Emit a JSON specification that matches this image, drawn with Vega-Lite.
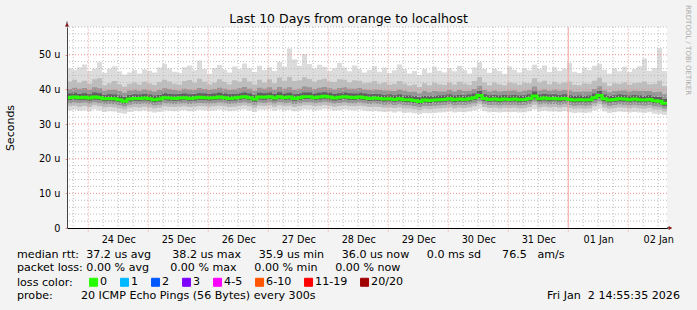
{
  "$schema": "https://vega.github.io/schema/vega-lite/v6.json",
  "width": 600,
  "height": 201,
  "autosize": {"type": "none"},
  "padding": {"left": 67, "top": 27, "right": 30, "bottom": 82},
  "background": "#f3f3f3",
  "config": {"font": "DejaVu Sans", "view": {"fill": "#ffffff", "stroke": null}},
  "title": {"text": "Last 10 Days from orange to localhost", "fontSize": 12.5, "fontWeight": "normal", "color": "#000000", "anchor": "middle", "frame": "group", "dx": -18.5, "baseline": "alphabetic", "offset": -30},
  "datasets": {
    "vminor": [{"h":-6},{"h":6},{"h":12},{"h":18},{"h":30},{"h":36},{"h":42},{"h":54},{"h":60},{"h":66},{"h":78},{"h":84},{"h":90},{"h":102},{"h":108},{"h":114},{"h":126},{"h":132},{"h":138},{"h":150},{"h":156},{"h":162},{"h":174},{"h":180},{"h":186},{"h":198},{"h":204},{"h":210},{"h":222},{"h":228}],
    "vmajor": [{"h":0},{"h":24},{"h":48},{"h":72},{"h":96},{"h":120},{"h":144},{"h":168},{"h":192},{"h":216}],
    "hminor": [{"v":2},{"v":4},{"v":6},{"v":8},{"v":12},{"v":14},{"v":16},{"v":18},{"v":22},{"v":24},{"v":26},{"v":28},{"v":32},{"v":34},{"v":36},{"v":38},{"v":42},{"v":44},{"v":46},{"v":48},{"v":52},{"v":54},{"v":56},{"v":58}],
    "hmajor": [{"v":10},{"v":20},{"v":30},{"v":40},{"v":50}],
    "smoke": [
      {"h":-8.5,"med":37.6,"lo1":33.9,"hi1":46.1,"lo2":35.1,"hi2":42.3,"lo3":36.0,"hi3":40.1,"lo4":36.9,"hi4":38.8,"loss":"0"},
      {"h":-6.5,"med":37.8,"lo1":34.2,"hi1":45.6,"lo2":35.3,"hi2":42.8,"lo3":36.2,"hi3":40.5,"lo4":37.1,"hi4":39.0,"loss":"0"},
      {"h":-4.5,"med":37.6,"lo1":33.8,"hi1":46.4,"lo2":35.0,"hi2":41.9,"lo3":36.1,"hi3":40.2,"lo4":36.9,"hi4":38.7,"loss":"0"},
      {"h":-2.5,"med":37.7,"lo1":34.0,"hi1":47.2,"lo2":35.2,"hi2":42.5,"lo3":36.2,"hi3":40.4,"lo4":37.0,"hi4":38.9,"loss":"0"},
      {"h":-0.5,"med":37.5,"lo1":33.6,"hi1":45.3,"lo2":34.9,"hi2":41.6,"lo3":35.9,"hi3":39.9,"lo4":36.8,"hi4":38.6,"loss":"0"},
      {"h":1.5,"med":37.8,"lo1":34.3,"hi1":46.0,"lo2":35.4,"hi2":42.9,"lo3":36.3,"hi3":40.6,"lo4":37.1,"hi4":39.1,"loss":"0"},
      {"h":3.5,"med":37.6,"lo1":33.9,"hi1":47.8,"lo2":35.1,"hi2":43.2,"lo3":36.0,"hi3":40.3,"lo4":36.9,"hi4":38.9,"loss":"0"},
      {"h":5.5,"med":37.3,"lo1":33.5,"hi1":44.8,"lo2":34.8,"hi2":41.2,"lo3":35.7,"hi3":39.6,"lo4":36.6,"hi4":38.4,"loss":"0"},
      {"h":7.5,"med":37.4,"lo1":33.7,"hi1":45.9,"lo2":34.9,"hi2":41.8,"lo3":35.8,"hi3":39.8,"lo4":36.7,"hi4":38.6,"loss":"0"},
      {"h":9.5,"med":37.3,"lo1":33.6,"hi1":46.7,"lo2":34.8,"hi2":42.4,"lo3":35.7,"hi3":39.9,"lo4":36.6,"hi4":38.5,"loss":"0"},
      {"h":11.5,"med":37.0,"lo1":33.2,"hi1":45.2,"lo2":34.5,"hi2":41.5,"lo3":35.4,"hi3":39.5,"lo4":36.3,"hi4":38.2,"loss":"0"},
      {"h":13.5,"med":36.6,"lo1":33.0,"hi1":44.3,"lo2":34.2,"hi2":40.8,"lo3":35.1,"hi3":39.0,"lo4":35.9,"hi4":37.8,"loss":"0"},
      {"h":15.5,"med":37.2,"lo1":33.5,"hi1":44.9,"lo2":34.7,"hi2":41.6,"lo3":35.6,"hi3":39.7,"lo4":36.5,"hi4":38.4,"loss":"0"},
      {"h":17.5,"med":37.4,"lo1":33.8,"hi1":45.6,"lo2":34.9,"hi2":42.0,"lo3":35.8,"hi3":39.9,"lo4":36.7,"hi4":38.6,"loss":"0"},
      {"h":19.5,"med":37.4,"lo1":33.7,"hi1":44.6,"lo2":34.8,"hi2":41.4,"lo3":35.8,"hi3":39.6,"lo4":36.7,"hi4":38.5,"loss":"0"},
      {"h":21.5,"med":37.5,"lo1":33.9,"hi1":45.8,"lo2":35.0,"hi2":42.2,"lo3":35.9,"hi3":40.0,"lo4":36.8,"hi4":38.7,"loss":"0"},
      {"h":23.5,"med":37.3,"lo1":33.6,"hi1":45.4,"lo2":34.8,"hi2":41.7,"lo3":35.7,"hi3":39.7,"lo4":36.6,"hi4":38.5,"loss":"0"},
      {"h":25.5,"med":37.0,"lo1":33.3,"hi1":44.9,"lo2":34.5,"hi2":41.3,"lo3":35.4,"hi3":39.4,"lo4":36.3,"hi4":38.2,"loss":"0"},
      {"h":27.5,"med":37.2,"lo1":33.5,"hi1":46.3,"lo2":34.7,"hi2":42.1,"lo3":35.6,"hi3":39.8,"lo4":36.5,"hi4":38.4,"loss":"0"},
      {"h":29.5,"med":37.6,"lo1":33.9,"hi1":47.4,"lo2":35.1,"hi2":42.8,"lo3":36.0,"hi3":40.3,"lo4":36.9,"hi4":38.9,"loss":"0"},
      {"h":31.5,"med":37.5,"lo1":33.8,"hi1":46.0,"lo2":35.0,"hi2":42.3,"lo3":35.9,"hi3":40.1,"lo4":36.8,"hi4":38.7,"loss":"0"},
      {"h":33.5,"med":37.4,"lo1":33.7,"hi1":45.1,"lo2":34.9,"hi2":41.6,"lo3":35.8,"hi3":39.8,"lo4":36.7,"hi4":38.6,"loss":"0"},
      {"h":35.5,"med":37.5,"lo1":33.9,"hi1":44.7,"lo2":35.0,"hi2":41.3,"lo3":35.9,"hi3":39.7,"lo4":36.8,"hi4":38.7,"loss":"0"},
      {"h":37.5,"med":37.6,"lo1":34.0,"hi1":46.4,"lo2":35.1,"hi2":42.4,"lo3":36.0,"hi3":40.2,"lo4":36.9,"hi4":38.8,"loss":"0"},
      {"h":39.5,"med":37.4,"lo1":33.7,"hi1":46.9,"lo2":34.9,"hi2":42.7,"lo3":35.8,"hi3":40.0,"lo4":36.7,"hi4":38.6,"loss":"0"},
      {"h":41.5,"med":37.5,"lo1":33.8,"hi1":45.5,"lo2":35.0,"hi2":41.9,"lo3":35.9,"hi3":39.9,"lo4":36.8,"hi4":38.7,"loss":"0"},
      {"h":43.5,"med":37.7,"lo1":34.1,"hi1":48.3,"lo2":35.2,"hi2":43.1,"lo3":36.1,"hi3":40.4,"lo4":37.0,"hi4":38.9,"loss":"0"},
      {"h":45.5,"med":37.6,"lo1":34.0,"hi1":45.9,"lo2":35.1,"hi2":42.2,"lo3":36.0,"hi3":40.1,"lo4":36.9,"hi4":38.8,"loss":"0"},
      {"h":47.5,"med":37.5,"lo1":33.8,"hi1":44.5,"lo2":35.0,"hi2":41.4,"lo3":35.9,"hi3":39.8,"lo4":36.8,"hi4":38.7,"loss":"0"},
      {"h":49.5,"med":37.6,"lo1":33.9,"hi1":46.2,"lo2":35.1,"hi2":42.0,"lo3":36.0,"hi3":40.1,"lo4":36.9,"hi4":38.8,"loss":"0"},
      {"h":51.5,"med":37.8,"lo1":34.2,"hi1":47.0,"lo2":35.3,"hi2":42.9,"lo3":36.2,"hi3":40.5,"lo4":37.1,"hi4":39.0,"loss":"0"},
      {"h":53.5,"med":37.6,"lo1":34.0,"hi1":45.7,"lo2":35.1,"hi2":42.1,"lo3":36.0,"hi3":40.2,"lo4":36.9,"hi4":38.8,"loss":"0"},
      {"h":55.5,"med":37.4,"lo1":33.7,"hi1":44.9,"lo2":34.9,"hi2":41.5,"lo3":35.8,"hi3":39.8,"lo4":36.7,"hi4":38.6,"loss":"0"},
      {"h":57.5,"med":37.5,"lo1":33.8,"hi1":46.6,"lo2":35.0,"hi2":42.6,"lo3":35.9,"hi3":40.0,"lo4":36.8,"hi4":38.7,"loss":"0"},
      {"h":59.5,"med":37.7,"lo1":34.1,"hi1":45.8,"lo2":35.2,"hi2":42.2,"lo3":36.1,"hi3":40.3,"lo4":37.0,"hi4":38.9,"loss":"0"},
      {"h":61.5,"med":37.9,"lo1":34.3,"hi1":47.5,"lo2":35.4,"hi2":43.3,"lo3":36.3,"hi3":40.7,"lo4":37.2,"hi4":39.1,"loss":"0"},
      {"h":63.5,"med":37.6,"lo1":33.9,"hi1":46.1,"lo2":35.1,"hi2":42.3,"lo3":36.0,"hi3":40.2,"lo4":36.9,"hi4":38.8,"loss":"0"},
      {"h":65.5,"med":37.2,"lo1":33.5,"hi1":45.0,"lo2":34.7,"hi2":41.4,"lo3":35.6,"hi3":39.6,"lo4":36.5,"hi4":38.4,"loss":"0"},
      {"h":67.5,"med":37.8,"lo1":34.2,"hi1":46.8,"lo2":35.3,"hi2":42.8,"lo3":36.2,"hi3":40.5,"lo4":37.1,"hi4":39.0,"loss":"0"},
      {"h":69.5,"med":37.7,"lo1":34.1,"hi1":45.6,"lo2":35.2,"hi2":42.0,"lo3":36.1,"hi3":40.2,"lo4":37.0,"hi4":38.9,"loss":"0"},
      {"h":71.5,"med":37.9,"lo1":34.3,"hi1":46.4,"lo2":35.4,"hi2":42.9,"lo3":36.3,"hi3":40.6,"lo4":37.2,"hi4":39.1,"loss":"0"},
      {"h":73.5,"med":37.5,"lo1":33.8,"hi1":45.3,"lo2":35.0,"hi2":41.8,"lo3":35.9,"hi3":39.9,"lo4":36.8,"hi4":38.7,"loss":"0"},
      {"h":75.5,"med":37.9,"lo1":34.2,"hi1":47.9,"lo2":35.4,"hi2":43.4,"lo3":36.3,"hi3":40.7,"lo4":37.2,"hi4":39.2,"loss":"0"},
      {"h":77.5,"med":37.6,"lo1":33.9,"hi1":46.5,"lo2":35.1,"hi2":42.5,"lo3":36.0,"hi3":40.2,"lo4":36.9,"hi4":38.8,"loss":"0"},
      {"h":79.5,"med":37.8,"lo1":34.1,"hi1":51.8,"lo2":35.3,"hi2":43.6,"lo3":36.2,"hi3":40.6,"lo4":37.1,"hi4":39.0,"loss":"0"},
      {"h":81.5,"med":37.4,"lo1":33.7,"hi1":48.6,"lo2":34.9,"hi2":42.4,"lo3":35.8,"hi3":39.9,"lo4":36.7,"hi4":38.6,"loss":"0"},
      {"h":83.5,"med":37.6,"lo1":33.9,"hi1":46.8,"lo2":35.1,"hi2":42.6,"lo3":36.0,"hi3":40.2,"lo4":36.9,"hi4":38.8,"loss":"0"},
      {"h":85.5,"med":37.9,"lo1":34.3,"hi1":50.2,"lo2":35.4,"hi2":43.5,"lo3":36.3,"hi3":40.8,"lo4":37.2,"hi4":39.1,"loss":"0"},
      {"h":87.5,"med":37.9,"lo1":34.2,"hi1":47.3,"lo2":35.4,"hi2":43.0,"lo3":36.3,"hi3":40.6,"lo4":37.2,"hi4":39.1,"loss":"0"},
      {"h":89.5,"med":37.6,"lo1":33.9,"hi1":46.0,"lo2":35.1,"hi2":42.2,"lo3":36.0,"hi3":40.1,"lo4":36.9,"hi4":38.8,"loss":"0"},
      {"h":91.5,"med":37.8,"lo1":34.1,"hi1":47.1,"lo2":35.3,"hi2":42.8,"lo3":36.2,"hi3":40.5,"lo4":37.1,"hi4":39.0,"loss":"0"},
      {"h":93.5,"med":38.0,"lo1":34.4,"hi1":46.5,"lo2":35.5,"hi2":43.1,"lo3":36.4,"hi3":40.7,"lo4":37.3,"hi4":39.2,"loss":"0"},
      {"h":95.5,"med":37.8,"lo1":34.2,"hi1":45.4,"lo2":35.3,"hi2":42.3,"lo3":36.2,"hi3":40.3,"lo4":37.1,"hi4":39.0,"loss":"0"},
      {"h":97.5,"med":37.5,"lo1":33.8,"hi1":46.2,"lo2":35.0,"hi2":42.1,"lo3":35.9,"hi3":40.0,"lo4":36.8,"hi4":38.7,"loss":"0"},
      {"h":99.5,"med":37.7,"lo1":34.0,"hi1":47.6,"lo2":35.2,"hi2":42.9,"lo3":36.1,"hi3":40.4,"lo4":37.0,"hi4":38.9,"loss":"0"},
      {"h":101.5,"med":37.9,"lo1":34.3,"hi1":46.3,"lo2":35.4,"hi2":42.8,"lo3":36.3,"hi3":40.6,"lo4":37.2,"hi4":39.1,"loss":"0"},
      {"h":103.5,"med":37.7,"lo1":34.1,"hi1":45.2,"lo2":35.2,"hi2":42.0,"lo3":36.1,"hi3":40.2,"lo4":37.0,"hi4":38.9,"loss":"0"},
      {"h":105.5,"med":37.6,"lo1":33.9,"hi1":46.9,"lo2":35.1,"hi2":42.6,"lo3":36.0,"hi3":40.2,"lo4":36.9,"hi4":38.8,"loss":"0"},
      {"h":107.5,"med":37.8,"lo1":34.2,"hi1":45.8,"lo2":35.3,"hi2":42.5,"lo3":36.2,"hi3":40.4,"lo4":37.1,"hi4":39.0,"loss":"0"},
      {"h":109.5,"med":37.6,"lo1":33.9,"hi1":44.9,"lo2":35.1,"hi2":41.8,"lo3":36.0,"hi3":40.0,"lo4":36.9,"hi4":38.8,"loss":"0"},
      {"h":111.5,"med":37.4,"lo1":33.7,"hi1":45.6,"lo2":34.9,"hi2":41.9,"lo3":35.8,"hi3":39.8,"lo4":36.7,"hi4":38.6,"loss":"0"},
      {"h":113.5,"med":37.5,"lo1":33.8,"hi1":46.7,"lo2":35.0,"hi2":42.4,"lo3":35.9,"hi3":40.0,"lo4":36.8,"hi4":38.7,"loss":"0"},
      {"h":115.5,"med":37.4,"lo1":33.6,"hi1":45.1,"lo2":34.9,"hi2":41.6,"lo3":35.8,"hi3":39.8,"lo4":36.7,"hi4":38.6,"loss":"0"},
      {"h":117.5,"med":37.2,"lo1":33.5,"hi1":46.3,"lo2":34.7,"hi2":42.0,"lo3":35.6,"hi3":39.7,"lo4":36.5,"hi4":38.4,"loss":"0"},
      {"h":119.5,"med":37.3,"lo1":33.6,"hi1":44.7,"lo2":34.8,"hi2":41.3,"lo3":35.7,"hi3":39.6,"lo4":36.6,"hi4":38.5,"loss":"0"},
      {"h":121.5,"med":37.1,"lo1":33.3,"hi1":45.5,"lo2":34.6,"hi2":41.6,"lo3":35.5,"hi3":39.5,"lo4":36.4,"hi4":38.3,"loss":"0"},
      {"h":123.5,"med":37.3,"lo1":33.6,"hi1":47.2,"lo2":34.8,"hi2":42.4,"lo3":35.7,"hi3":39.9,"lo4":36.6,"hi4":38.5,"loss":"0"},
      {"h":125.5,"med":37.0,"lo1":33.2,"hi1":45.8,"lo2":34.5,"hi2":41.7,"lo3":35.4,"hi3":39.6,"lo4":36.3,"hi4":38.2,"loss":"0"},
      {"h":127.5,"med":37.0,"lo1":33.3,"hi1":44.6,"lo2":34.5,"hi2":41.1,"lo3":35.4,"hi3":39.3,"lo4":36.3,"hi4":38.2,"loss":"0"},
      {"h":129.5,"med":36.8,"lo1":33.1,"hi1":45.3,"lo2":34.3,"hi2":41.4,"lo3":35.2,"hi3":39.3,"lo4":36.1,"hi4":38.0,"loss":"0"},
      {"h":131.5,"med":36.5,"lo1":32.9,"hi1":44.2,"lo2":34.0,"hi2":40.7,"lo3":34.9,"hi3":38.9,"lo4":35.8,"hi4":37.7,"loss":"0"},
      {"h":133.5,"med":36.9,"lo1":33.2,"hi1":45.9,"lo2":34.4,"hi2":41.8,"lo3":35.3,"hi3":39.5,"lo4":36.2,"hi4":38.1,"loss":"0"},
      {"h":135.5,"med":36.8,"lo1":33.1,"hi1":44.8,"lo2":34.3,"hi2":41.2,"lo3":35.2,"hi3":39.2,"lo4":36.1,"hi4":38.0,"loss":"0"},
      {"h":137.5,"med":36.9,"lo1":33.2,"hi1":46.5,"lo2":34.4,"hi2":41.9,"lo3":35.3,"hi3":39.5,"lo4":36.2,"hi4":38.1,"loss":"0"},
      {"h":139.5,"med":37.0,"lo1":33.3,"hi1":45.4,"lo2":34.5,"hi2":41.5,"lo3":35.4,"hi3":39.4,"lo4":36.3,"hi4":38.2,"loss":"0"},
      {"h":141.5,"med":37.1,"lo1":33.4,"hi1":44.9,"lo2":34.6,"hi2":41.3,"lo3":35.5,"hi3":39.4,"lo4":36.4,"hi4":38.3,"loss":"0"},
      {"h":143.5,"med":37.3,"lo1":33.6,"hi1":46.1,"lo2":34.8,"hi2":42.0,"lo3":35.7,"hi3":39.8,"lo4":36.6,"hi4":38.5,"loss":"0"},
      {"h":145.5,"med":37.0,"lo1":33.3,"hi1":45.2,"lo2":34.5,"hi2":41.4,"lo3":35.4,"hi3":39.4,"lo4":36.3,"hi4":38.2,"loss":"0"},
      {"h":147.5,"med":37.2,"lo1":33.5,"hi1":46.8,"lo2":34.7,"hi2":42.2,"lo3":35.6,"hi3":39.8,"lo4":36.5,"hi4":38.4,"loss":"0"},
      {"h":149.5,"med":37.1,"lo1":33.4,"hi1":45.6,"lo2":34.6,"hi2":41.7,"lo3":35.5,"hi3":39.5,"lo4":36.4,"hi4":38.3,"loss":"0"},
      {"h":151.5,"med":37.3,"lo1":33.6,"hi1":44.6,"lo2":34.8,"hi2":41.3,"lo3":35.7,"hi3":39.6,"lo4":36.6,"hi4":38.5,"loss":"0"},
      {"h":153.5,"med":37.6,"lo1":33.9,"hi1":46.3,"lo2":35.1,"hi2":42.4,"lo3":36.0,"hi3":40.1,"lo4":36.9,"hi4":38.8,"loss":"0"},
      {"h":155.5,"med":38.2,"lo1":34.4,"hi1":47.8,"lo2":35.7,"hi2":43.6,"lo3":36.6,"hi3":41.0,"lo4":37.5,"hi4":39.5,"loss":"0"},
      {"h":157.5,"med":37.4,"lo1":33.7,"hi1":45.9,"lo2":34.9,"hi2":42.0,"lo3":35.8,"hi3":39.8,"lo4":36.7,"hi4":38.6,"loss":"0"},
      {"h":159.5,"med":37.1,"lo1":33.4,"hi1":44.8,"lo2":34.6,"hi2":41.2,"lo3":35.5,"hi3":39.4,"lo4":36.4,"hi4":38.3,"loss":"0"},
      {"h":161.5,"med":37.2,"lo1":33.5,"hi1":46.0,"lo2":34.7,"hi2":41.9,"lo3":35.6,"hi3":39.7,"lo4":36.5,"hi4":38.4,"loss":"0"},
      {"h":163.5,"med":37.0,"lo1":33.3,"hi1":45.3,"lo2":34.5,"hi2":41.5,"lo3":35.4,"hi3":39.4,"lo4":36.3,"hi4":38.2,"loss":"0"},
      {"h":165.5,"med":37.2,"lo1":33.5,"hi1":44.5,"lo2":34.7,"hi2":41.2,"lo3":35.6,"hi3":39.5,"lo4":36.5,"hi4":38.4,"loss":"0"},
      {"h":167.5,"med":37.1,"lo1":33.4,"hi1":46.6,"lo2":34.6,"hi2":42.0,"lo3":35.5,"hi3":39.6,"lo4":36.4,"hi4":38.3,"loss":"0"},
      {"h":169.5,"med":37.2,"lo1":33.5,"hi1":45.7,"lo2":34.7,"hi2":41.8,"lo3":35.6,"hi3":39.7,"lo4":36.5,"hi4":38.4,"loss":"0"},
      {"h":171.5,"med":37.0,"lo1":33.3,"hi1":44.9,"lo2":34.5,"hi2":41.3,"lo3":35.4,"hi3":39.3,"lo4":36.3,"hi4":38.2,"loss":"0"},
      {"h":173.5,"med":37.1,"lo1":33.4,"hi1":46.2,"lo2":34.6,"hi2":41.9,"lo3":35.5,"hi3":39.6,"lo4":36.4,"hi4":38.3,"loss":"0"},
      {"h":175.5,"med":37.4,"lo1":33.7,"hi1":45.5,"lo2":34.9,"hi2":41.8,"lo3":35.8,"hi3":39.8,"lo4":36.7,"hi4":38.6,"loss":"0"},
      {"h":177.5,"med":38.1,"lo1":34.3,"hi1":47.1,"lo2":35.6,"hi2":43.2,"lo3":36.5,"hi3":40.8,"lo4":37.4,"hi4":39.4,"loss":"0"},
      {"h":179.5,"med":37.3,"lo1":33.6,"hi1":45.8,"lo2":34.8,"hi2":42.0,"lo3":35.7,"hi3":39.7,"lo4":36.6,"hi4":38.5,"loss":"0"},
      {"h":181.5,"med":37.5,"lo1":33.8,"hi1":46.9,"lo2":35.0,"hi2":42.5,"lo3":35.9,"hi3":40.0,"lo4":36.8,"hi4":38.7,"loss":"0"},
      {"h":183.5,"med":37.3,"lo1":33.6,"hi1":45.0,"lo2":34.8,"hi2":41.5,"lo3":35.7,"hi3":39.6,"lo4":36.6,"hi4":38.5,"loss":"0"},
      {"h":185.5,"med":37.4,"lo1":33.7,"hi1":46.4,"lo2":34.9,"hi2":42.1,"lo3":35.8,"hi3":39.9,"lo4":36.7,"hi4":38.6,"loss":"0"},
      {"h":187.5,"med":37.2,"lo1":33.5,"hi1":45.3,"lo2":34.7,"hi2":41.6,"lo3":35.6,"hi3":39.6,"lo4":36.5,"hi4":38.4,"loss":"0"},
      {"h":189.5,"med":37.4,"lo1":33.7,"hi1":46.0,"lo2":34.9,"hi2":42.0,"lo3":35.8,"hi3":39.8,"lo4":36.7,"hi4":38.6,"loss":"0"},
      {"h":191.5,"med":37.1,"lo1":33.4,"hi1":47.7,"lo2":34.6,"hi2":42.3,"lo3":35.5,"hi3":39.7,"lo4":36.4,"hi4":38.3,"loss":"0"},
      {"h":193.5,"med":36.9,"lo1":33.2,"hi1":45.1,"lo2":34.4,"hi2":41.3,"lo3":35.3,"hi3":39.3,"lo4":36.2,"hi4":38.1,"loss":"0"},
      {"h":195.5,"med":37.0,"lo1":33.3,"hi1":44.7,"lo2":34.5,"hi2":41.2,"lo3":35.4,"hi3":39.3,"lo4":36.3,"hi4":38.2,"loss":"0"},
      {"h":197.5,"med":36.9,"lo1":33.2,"hi1":46.3,"lo2":34.4,"hi2":41.8,"lo3":35.3,"hi3":39.4,"lo4":36.2,"hi4":38.1,"loss":"0"},
      {"h":199.5,"med":37.0,"lo1":33.3,"hi1":45.6,"lo2":34.5,"hi2":41.6,"lo3":35.4,"hi3":39.4,"lo4":36.3,"hi4":38.2,"loss":"0"},
      {"h":201.5,"med":37.6,"lo1":33.9,"hi1":46.8,"lo2":35.1,"hi2":42.5,"lo3":36.0,"hi3":40.1,"lo4":36.9,"hi4":38.8,"loss":"0"},
      {"h":203.5,"med":38.2,"lo1":34.4,"hi1":47.4,"lo2":35.7,"hi2":43.4,"lo3":36.6,"hi3":40.9,"lo4":37.5,"hi4":39.5,"loss":"0"},
      {"h":205.5,"med":37.3,"lo1":33.6,"hi1":45.7,"lo2":34.8,"hi2":41.9,"lo3":35.7,"hi3":39.7,"lo4":36.6,"hi4":38.5,"loss":"0"},
      {"h":207.5,"med":36.9,"lo1":33.2,"hi1":44.6,"lo2":34.4,"hi2":41.0,"lo3":35.3,"hi3":39.2,"lo4":36.2,"hi4":38.1,"loss":"0"},
      {"h":209.5,"med":37.1,"lo1":33.4,"hi1":46.1,"lo2":34.6,"hi2":41.8,"lo3":35.5,"hi3":39.5,"lo4":36.4,"hi4":38.3,"loss":"0"},
      {"h":211.5,"med":37.3,"lo1":33.6,"hi1":45.2,"lo2":34.8,"hi2":41.6,"lo3":35.7,"hi3":39.6,"lo4":36.6,"hi4":38.5,"loss":"0"},
      {"h":213.5,"med":37.2,"lo1":33.5,"hi1":46.5,"lo2":34.7,"hi2":42.0,"lo3":35.6,"hi3":39.7,"lo4":36.5,"hi4":38.4,"loss":"0"},
      {"h":215.5,"med":37.0,"lo1":33.3,"hi1":45.0,"lo2":34.5,"hi2":41.3,"lo3":35.4,"hi3":39.4,"lo4":36.3,"hi4":38.2,"loss":"0"},
      {"h":217.5,"med":37.2,"lo1":33.5,"hi1":45.9,"lo2":34.7,"hi2":41.8,"lo3":35.6,"hi3":39.6,"lo4":36.5,"hi4":38.4,"loss":"0"},
      {"h":219.5,"med":37.0,"lo1":33.3,"hi1":46.7,"lo2":34.5,"hi2":41.9,"lo3":35.4,"hi3":39.5,"lo4":36.3,"hi4":38.2,"loss":"0"},
      {"h":221.5,"med":36.9,"lo1":33.2,"hi1":48.9,"lo2":34.4,"hi2":42.3,"lo3":35.3,"hi3":39.5,"lo4":36.2,"hi4":38.1,"loss":"0"},
      {"h":223.5,"med":37.1,"lo1":33.4,"hi1":45.4,"lo2":34.6,"hi2":41.5,"lo3":35.5,"hi3":39.5,"lo4":36.4,"hi4":38.3,"loss":"0"},
      {"h":225.5,"med":36.7,"lo1":33.0,"hi1":46.2,"lo2":34.2,"hi2":41.6,"lo3":35.1,"hi3":39.2,"lo4":36.0,"hi4":37.9,"loss":"0"},
      {"h":227.5,"med":36.6,"lo1":32.9,"hi1":51.9,"lo2":34.1,"hi2":42.5,"lo3":35.0,"hi3":39.3,"lo4":35.9,"hi4":37.8,"loss":"0"},
      {"h":229.5,"med":36.0,"lo1":32.6,"hi1":45.3,"lo2":33.6,"hi2":41.0,"lo3":34.5,"hi3":38.6,"lo4":35.3,"hi4":37.2,"loss":"0"},
      {"h":231.5,"med":36.0,"lo1":32.6,"hi1":45.3,"lo2":33.6,"hi2":41.0,"lo3":34.5,"hi3":38.6,"lo4":35.3,"hi4":37.2,"loss":"0"}
    ]
  },
  "layer": [
    {
      "data": {"name": "smoke"},
      "mark": {"type": "area", "interpolate": "step-after", "color": "#dcdcdc"},
      "encoding": {
        "x": {
          "field": "h", "type": "quantitative", "title": null,
          "scale": {"domain": [-8.5, 231.5], "nice": false, "zero": false},
          "axis": {
            "values": [12, 36, 60, 84, 108, 132, 156, 180, 204, 228],
            "grid": false,
            "ticks": false,
            "labelExpr": "['24 Dec','25 Dec','26 Dec','27 Dec','28 Dec','29 Dec','30 Dec','31 Dec','01 Jan','02 Jan'][floor(datum.value / 24)]",
            "labelFlush": false,
            "labelOverlap": false,
            "labelFontSize": 9.7,
            "labelColor": "#000000",
            "labelPadding": 6,
            "domainColor": "#000000",
            "zindex": 1
          }
        },
        "y": {
          "field": "lo1", "type": "quantitative", "title": "Seconds",
          "scale": {"domain": [0, 58], "nice": false, "zero": false},
          "axis": {
            "values": [0, 10, 20, 30, 40, 50],
            "grid": false,
            "tickSize": 2,
            "tickColor": "#f08c8c",
            "labelExpr": "datum.value === 0 ? '0' : datum.value + ' u'",
            "labelOverlap": false,
            "labelFontSize": 9.7,
            "labelColor": "#000000",
            "labelPadding": 5,
            "domainColor": "#444444",
            "titleFontSize": 11,
            "titleFontWeight": "normal",
            "titleColor": "#000000",
            "titleX": -57,
            "titleY": 100.5,
            "titleAngle": -90,
            "titleAlign": "center",
            "titleBaseline": "middle",
            "zindex": 1
          }
        },
        "y2": {"field": "hi1"}
      }
    },
    {
      "data": {"name": "smoke"},
      "mark": {"type": "area", "interpolate": "step-after", "color": "#bdbdbd"},
      "encoding": {"x": {"field": "h", "type": "quantitative", "title": null}, "y": {"field": "lo2", "type": "quantitative", "title": "Seconds"}, "y2": {"field": "hi2"}}
    },
    {
      "data": {"name": "smoke"},
      "mark": {"type": "area", "interpolate": "step-after", "color": "#969696"},
      "encoding": {"x": {"field": "h", "type": "quantitative", "title": null}, "y": {"field": "lo3", "type": "quantitative", "title": "Seconds"}, "y2": {"field": "hi3"}}
    },
    {
      "data": {"name": "smoke"},
      "mark": {"type": "area", "interpolate": "step-after", "color": "#5f5f5f"},
      "encoding": {"x": {"field": "h", "type": "quantitative", "title": null}, "y": {"field": "lo4", "type": "quantitative", "title": "Seconds"}, "y2": {"field": "hi4"}}
    },
    {
      "data": {"name": "vminor"},
      "mark": {"type": "rule", "color": "#bdbdbd", "strokeDash": [1, 2], "strokeWidth": 1},
      "encoding": {"x": {"field": "h", "type": "quantitative", "title": null}}
    },
    {
      "data": {"name": "hminor"},
      "mark": {"type": "rule", "color": "#bdbdbd", "strokeDash": [1, 2], "strokeWidth": 1},
      "encoding": {"y": {"field": "v", "type": "quantitative", "title": "Seconds"}}
    },
    {
      "data": {"name": "vmajor"},
      "mark": {"type": "rule", "color": "#f08c8c", "strokeDash": [1, 2], "strokeWidth": 1},
      "encoding": {"x": {"field": "h", "type": "quantitative", "title": null}, "y": {"datum": -1}, "y2": {"datum": 58}}
    },
    {
      "data": {"name": "hmajor"},
      "mark": {"type": "rule", "color": "#f08c8c", "strokeDash": [1, 2], "strokeWidth": 1},
      "encoding": {"y": {"field": "v", "type": "quantitative", "title": "Seconds"}}
    },
    {
      "data": {"values": [{}]},
      "mark": {"type": "rule", "color": "#f4aaaa", "strokeWidth": 1},
      "encoding": {"x": {"datum": 192}}
    },
    {
      "data": {"name": "smoke"},
      "mark": {"type": "line", "interpolate": "step-after", "strokeWidth": 3},
      "encoding": {
        "x": {"field": "h", "type": "quantitative", "title": null},
        "y": {"field": "med", "type": "quantitative", "title": "Seconds"},
        "color": {
          "field": "loss", "type": "nominal",
          "scale": {
            "domain": ["0", "1", "2", "3", "4-5", "6-10", "11-19", "20/20"],
            "range": ["#26ff00", "#00b8ff", "#0059ff", "#7e00ff", "#ff00ff", "#ff5500", "#ff0000", "#a10000"]
          },
          "legend": {
            "title": "loss color:",
            "orient": "none",
            "legendX": -50,
            "legendY": 249.5,
            "direction": "horizontal",
            "columns": 8,
            "titleOrient": "left",
            "titleFontSize": 11.1,
            "titleFontWeight": "normal",
            "titleColor": "#000000",
            "titlePadding": 15,
            "labelFontSize": 11.1,
            "labelColor": "#000000",
            "labelOffset": 1,
            "columnPadding": 10,
            "symbolType": "square",
            "symbolSize": 64,
            "symbolStrokeColor": "#000000",
            "symbolStrokeWidth": 1,
            "padding": 0,
            "encode": {
              "symbols": {
                "update": {
                  "fill": {"scale": "color", "field": "value"},
                  "stroke": {"value": "#000000"},
                  "strokeWidth": {"value": 1},
                  "opacity": {"value": 1}
                }
              }
            }
          }
        }
      }
    },
    {
      "data": {"values": [{}]},
      "mark": {"type": "rule", "color": "#444444", "strokeWidth": 1},
      "encoding": {"x": {"datum": -8.5}, "y": {"datum": 58}, "y2": {"datum": 59.6}}
    },
    {
      "data": {"values": [{}]},
      "mark": {"type": "rule", "color": "#000000", "strokeWidth": 1},
      "encoding": {"x": {"datum": 231.5}, "x2": {"datum": 232.6}, "y": {"datum": 0}}
    },
    {
      "data": {"values": [{}]},
      "mark": {"type": "point", "shape": "triangle-up", "size": 18, "filled": true, "color": "#8b1a1a", "opacity": 1},
      "encoding": {"x": {"datum": -8.5}, "y": {"datum": 58.7}}
    },
    {
      "data": {"values": [{}]},
      "mark": {"type": "point", "shape": "triangle-right", "size": 18, "filled": true, "color": "#8b1a1a", "opacity": 1},
      "encoding": {"x": {"datum": 232.9}, "y": {"datum": 0}}
    },
    {
      "data": {"values": [{"text": "median rtt:\u00a0\u00a037.2 us avg\u00a0\u00a0\u00a0\u00a0\u00a0\u00a038.2 us max\u00a0\u00a0\u00a0\u00a0\u00a035.9 us min\u00a0\u00a0\u00a0\u00a0\u00a036.0 us now\u00a0\u00a0\u00a0\u00a0\u00a00.0 ms sd\u00a0\u00a0\u00a0\u00a0\u00a0\u00a076.5\u00a0\u00a0\u00a0am/s"}]},
      "mark": {"type": "text", "align": "left", "baseline": "middle", "fontSize": 11.1, "color": "#000000"},
      "encoding": {"x": {"value": -50}, "y": {"value": 227.6}, "text": {"field": "text"}}
    },
    {
      "data": {"values": [{"text": "packet loss:\u00a00.00 % avg\u00a0\u00a0\u00a0\u00a0\u00a0\u00a00.00 % max\u00a0\u00a0\u00a0\u00a0\u00a00.00 % min\u00a0\u00a0\u00a0\u00a0\u00a00.00 % now"}]},
      "mark": {"type": "text", "align": "left", "baseline": "middle", "fontSize": 11.1, "color": "#000000"},
      "encoding": {"x": {"value": -50}, "y": {"value": 241.3}, "text": {"field": "text"}}
    },
    {
      "data": {"values": [{"text": "probe:\u00a0\u00a0\u00a0\u00a0\u00a0\u00a0\u00a0\u00a020 ICMP Echo Pings (56 Bytes) every 300s"}]},
      "mark": {"type": "text", "align": "left", "baseline": "middle", "fontSize": 11.1, "color": "#000000"},
      "encoding": {"x": {"value": -50}, "y": {"value": 268.7}, "text": {"field": "text"}}
    },
    {
      "data": {"values": [{"text": "Fri Jan\u00a0\u00a02 14:55:35 2026"}]},
      "mark": {"type": "text", "align": "right", "baseline": "middle", "fontSize": 11.1, "color": "#000000"},
      "encoding": {"x": {"value": 613}, "y": {"value": 268.7}, "text": {"field": "text"}}
    },
    {
      "data": {"values": [{"text": "RRDTOOL / TOBI OETIKER"}]},
      "mark": {"type": "text", "angle": 90, "align": "left", "baseline": "middle", "fontSize": 7, "color": "#aaaaaa"},
      "encoding": {"x": {"value": 621}, "y": {"value": -22}, "text": {"field": "text"}}
    }
  ]
}
